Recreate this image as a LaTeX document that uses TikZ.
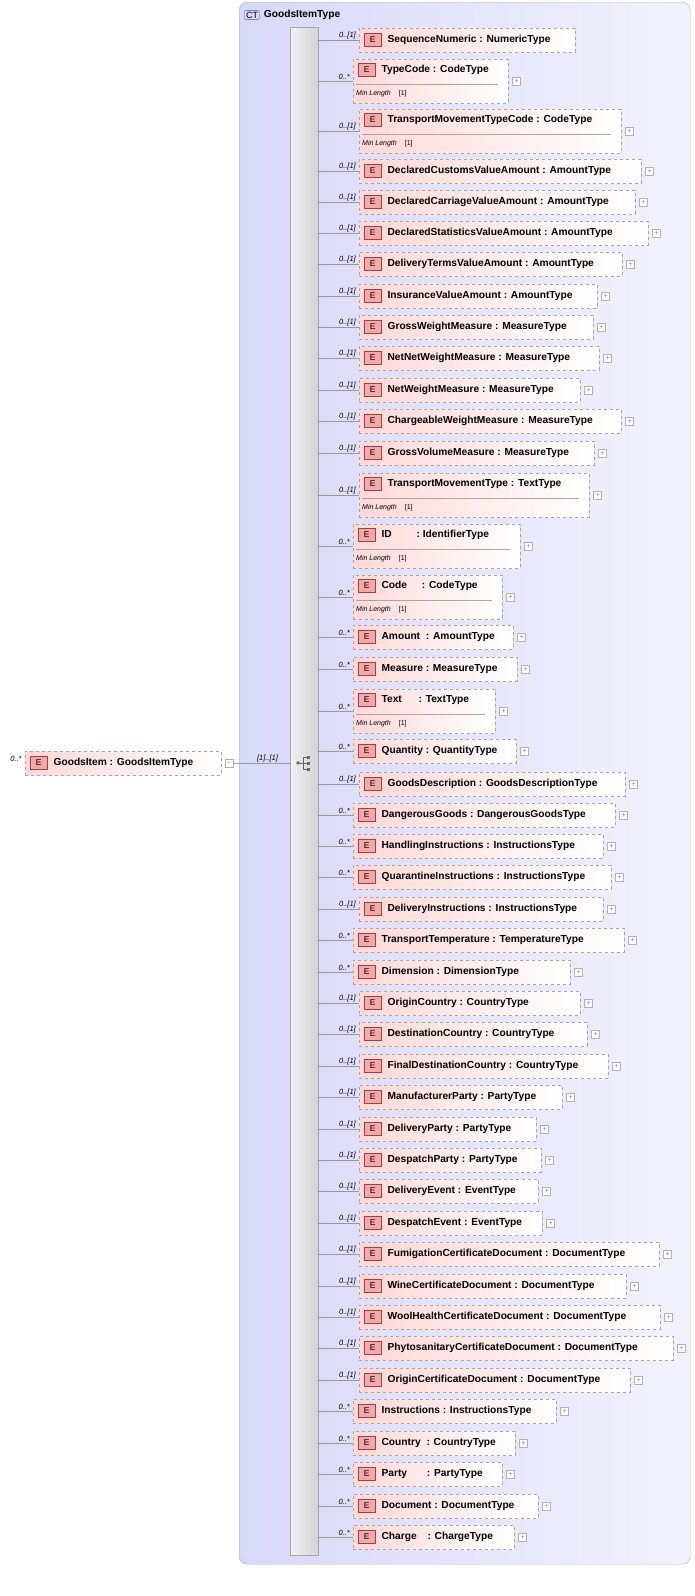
\documentclass[tikz,border=0pt]{standalone}
\usepackage{fontspec}
\setmainfont{Liberation Sans}
\usetikzlibrary{positioning,shadows}

\definecolor{ctfill}{HTML}{F2F2FF}
\definecolor{ctside}{HTML}{D8D8F8}
\definecolor{elemred}{HTML}{FFD8D8}
\definecolor{ebox}{HTML}{F4A8A8}
\definecolor{eline}{HTML}{A04040}

\tikzset{
  elem/.style={rectangle,draw=gray!70,dashed,left color=elemred,right color=white,
    inner sep=0pt,drop shadow={opacity=0.15,shadow xshift=1pt,shadow yshift=-1pt}},
  ebadge/.style={rectangle,draw=eline,fill=ebox,minimum width=17pt,minimum height=13pt,
    inner sep=0pt,font=\fontsize{8.5}{9}\selectfont},
  ename/.style={anchor=west,inner sep=0pt,font=\fontsize{10.2}{11}\selectfont\bfseries},
  mult/.style={anchor=south east,inner sep=1pt,font=\fontsize{7.5}{8}\selectfont\itshape},
  plusbox/.style={rectangle,draw=gray!60,fill=white,minimum size=8pt,inner sep=0pt,
    font=\fontsize{7}{7}\selectfont\color{gray}},
  conn/.style={draw=gray!80,thin}
}

\begin{document}
\begin{tikzpicture}[x=1pt,y=-1pt]
    \useasboundingbox (0,0) rectangle (694,1596);
    % complex type frame
    \node (ct) [rectangle,rounded corners=8pt,draw=gray!60,left color=ctside,right color=ctfill,
        minimum width=451pt,minimum height=1562pt,anchor=north west,inner sep=0pt] at (239,2) {};
    \node (ctbadge) [rectangle,rounded corners=2pt,draw=gray!70!blue,fill=ctside,
        font=\fontsize{9}{9}\selectfont,inner sep=1.5pt] at (252,15) {CT};
    \node [ename,right=4pt of ctbadge] {GoodsItemType};
    % sequence bar
    \node (bar) [rectangle,draw=gray!70,left color=gray!10,right color=gray!35,
        minimum width=28pt,minimum height=1528pt,anchor=north west,inner sep=0pt] at (290,27) {};
    \node (seq) at (304,763) {};
    \fill[gray!80!black] (298,763) circle (1.8pt);
    \draw[gray!80!black,line width=0.8pt] (298,763) -- (303,763) (303,757) -- (303,769)
        (303,757) -- (307,757) (303,769) -- (307,769) (303,763) -- (307,763);
    \foreach \yy in {757,763,769} \fill[gray!80!black] (306.5,\yy-1.5) rectangle (309.5,\yy+1.5);
    % root element
    \node (root) [elem,minimum width=196pt,minimum height=24pt] at (123,763) {};
    \node (rootE) [ebadge,anchor=west] at (30,763) {E};
    \node [ename,right=6pt of rootE] {GoodsItem : GoodsItemType};
    \node [mult,xshift=-2pt] at (root.west) {0..*};
    \node (rootminus) [plusbox,right=4pt of root] {$-$};
    \draw[conn] (rootminus.east) -- (bar.west |- root.east) node[pos=0.6,above,mult,anchor=south] {[1]..[1]};
    % children
    \foreach \nm/\yy/\lx/\rx/\kd [count=\i] in {
        SequenceNumeric : NumericType/40/359/575/0,
        TypeCode : CodeType/81/353/508/2,
        TransportMovementTypeCode : CodeType/131/359/621/2,
        DeclaredCustomsValueAmount : AmountType/171/359/641/1,
        DeclaredCarriageValueAmount : AmountType/202/359/635/1,
        DeclaredStatisticsValueAmount : AmountType/233/359/648/1,
        DeliveryTermsValueAmount : AmountType/264/359/622/1,
        InsuranceValueAmount : AmountType/296/359/597/1,
        GrossWeightMeasure : MeasureType/327/359/593/1,
        NetNetWeightMeasure : MeasureType/358/359/599/1,
        NetWeightMeasure : MeasureType/390/359/580/1,
        ChargeableWeightMeasure : MeasureType/421/359/621/1,
        GrossVolumeMeasure : MeasureType/453/359/594/1,
        TransportMovementType : TextType/495/359/589/2,
        ID\hspace{22pt} : IdentifierType/546/353/520/2,
        Code\hspace{12pt} : CodeType/597/353/502/2,
        Amount\hspace{3pt} : AmountType/637/353/513/1,
        Measure : MeasureType/669/353/517/1,
        Text\hspace{14pt} : TextType/711/353/495/2,
        Quantity : QuantityType/751/353/516/1,
        GoodsDescription : GoodsDescriptionType/784/359/625/1,
        DangerousGoods : DangerousGoodsType/815/353/615/1,
        HandlingInstructions : InstructionsType/846/353/603/1,
        QuarantineInstructions : InstructionsType/877/353/611/1,
        DeliveryInstructions : InstructionsType/909/359/603/1,
        TransportTemperature : TemperatureType/940/353/624/1,
        Dimension : DimensionType/972/353/570/1,
        OriginCountry : CountryType/1003/359/580/1,
        DestinationCountry : CountryType/1034/359/587/1,
        FinalDestinationCountry : CountryType/1066/359/608/1,
        ManufacturerParty : PartyType/1097/359/562/1,
        DeliveryParty : PartyType/1129/359/536/1,
        DespatchParty : PartyType/1160/359/541/1,
        DeliveryEvent : EventType/1191/359/538/1,
        DespatchEvent : EventType/1223/359/542/1,
        FumigationCertificateDocument : DocumentType/1254/359/659/1,
        WineCertificateDocument : DocumentType/1286/359/626/1,
        WoolHealthCertificateDocument : DocumentType/1317/359/660/1,
        PhytosanitaryCertificateDocument : DocumentType/1348/359/673/1,
        OriginCertificateDocument : DocumentType/1380/359/630/1,
        Instructions : InstructionsType/1411/353/556/1,
        Country\hspace{3pt} : CountryType/1443/353/515/1,
        Party\hspace{17pt} : PartyType/1474/353/502/1,
        Document : DocumentType/1506/353/538/1,
        Charge\hspace{8pt} : ChargeType/1537/353/514/1} {
        \pgfmathsetmacro\ww{\rx-\lx}
        \ifnum\kd=2 \def\hh{44}\def\ty{\yy-11}\else\def\hh{24}\def\ty{\yy}\fi
        \ifnum\lx<356 \def\mm{0..*}\else\def\mm{0..[1]}\fi
        \node (e\i) [elem,minimum width=\ww pt,minimum height=\hh pt,anchor=west] at (\lx,\yy) {};
        \node (b\i) [ebadge,anchor=west] at (\lx+5,\ty) {E};
        \node (t\i) [ename,right=6pt of b\i] {\nm};
        \ifnum\kd=2
            \draw[gray!70] (\lx+3,\yy+3) -- (\rx-10,\yy+3);
            \node [anchor=west,inner sep=0pt,font=\fontsize{7}{7}\selectfont] at (\lx+3,\yy+13)
                {\textit{Min Length}\hspace{8pt}[1]};
        \fi
        \ifnum\kd>0 \node [plusbox,right=4pt of e\i] {+}; \fi
        \draw[conn] (bar.east |- e\i.west) -- (e\i.west);
        \node [mult,xshift=-2pt] at (e\i.west) {\mm};
    }
\end{tikzpicture}
\end{document}
